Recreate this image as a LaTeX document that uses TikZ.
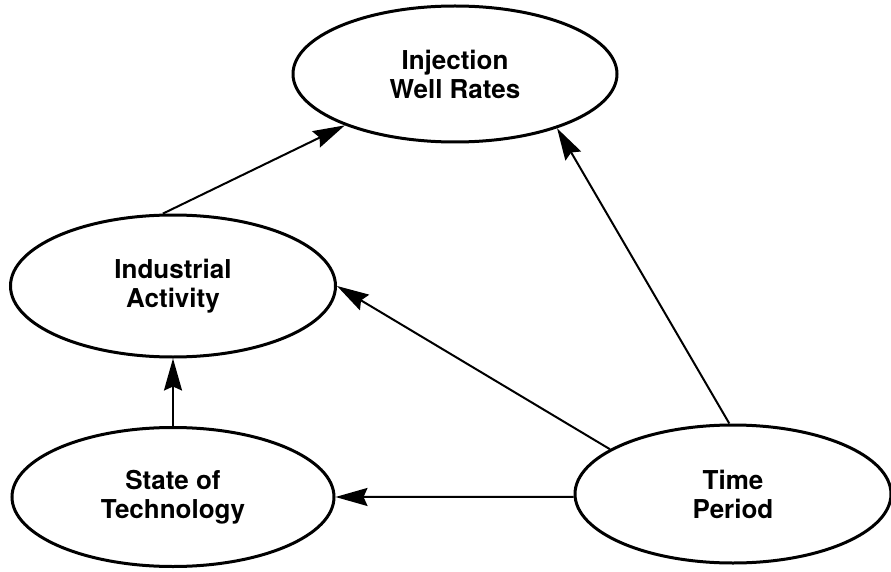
\documentclass[tikz,border=0pt]{standalone}
\usepackage{fontspec}
\setmainfont{TeX Gyre Heros}
\usetikzlibrary{shapes.geometric,arrows.meta}
\begin{document}
\begin{tikzpicture}[x=1pt,y=-1pt,
  factor/.style={ellipse,draw,line width=3pt,inner sep=0pt,align=center,
    font=\fontsize{26}{29}\selectfont\bfseries},
  link/.style={line width=2pt,-{Stealth[length=32pt,width=18pt,inset=4pt]}}]
  \useasboundingbox (0,0) rectangle (891,572);
  \node[factor,minimum width=324pt,minimum height=136pt] (inj) at (455,74) {Injection\\Well Rates};
  \node[factor,minimum width=325pt,minimum height=142pt] (ind) at (173,286) {Industrial\\Activity};
  \node[factor,minimum width=322pt,minimum height=139pt] (tech) at (173,497) {State of\\Technology};
  \node[factor,minimum width=316pt,minimum height=138pt] (time) at (733,494) {Time\\Period};
  % causal links
  \draw[link] (ind.98) -- (inj.205);
  \draw[link] (time.93) -- (inj.332);
  \draw[link] (time.160) -- (ind.0);
  \draw[link] (time.181) -- (tech.0);
  \draw[link] (tech.north) -- (ind.south);
\end{tikzpicture}
\end{document}
